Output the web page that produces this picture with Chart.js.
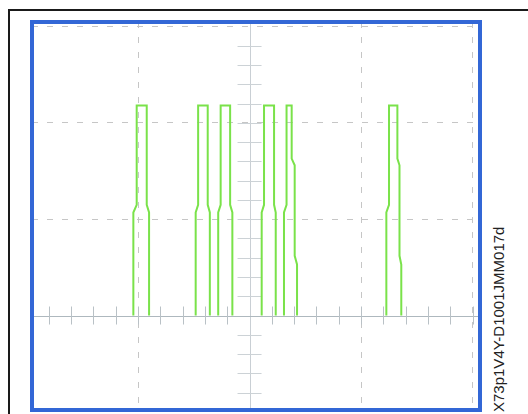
<!DOCTYPE html>
<html>
<head>
<meta charset="utf-8">
<script src="https://cdn.jsdelivr.net/npm/chart.js@4/dist/chart.umd.min.js"></script>
<style>
  html, body { margin: 0; padding: 0; background: #fff; width: 528px; height: 414px; overflow: hidden; }
  #frame { position: absolute; left: 8px; top: 9px; width: 700px; height: 700px;
           border-top: 2px solid #1a1a1a; border-left: 2px solid #1a1a1a; }
  #scope { position: absolute; left: 22px; top: 12px; }
  #code { position: absolute; left: 491px; top: 412px; transform: rotate(-90deg); transform-origin: left top;
          font-family: "Liberation Sans", Arial, sans-serif; font-size: 15px; line-height: 15px;
          color: #222; white-space: nowrap; }
</style>
</head>
<body>
<div id="frame"></div>
<canvas id="scope" width="468" height="408"></canvas>
<div id="code">X73p1V4Y-D1001JMM017d</div>
<script>
// scope screen in divisions (x: time/div, y: volts/div), 0,0 = centre cross
const xMin = -1.951, xMax = 2.067;
const yMin = -0.981, yMax = 3.048;
const minorStep = 0.2;
const xMinorFrom = -1.8, xMinorTo = 2.0;
const yMinorFrom = -0.8, yMinorTo = 2.8;

// trace vertices for each pulse (x in div, y in div)
const pulseX = [
    [-1.042, -1.042, -1.012, -1.012, -0.922, -0.922, -0.901, -0.901],
    [-0.483, -0.483, -0.461, -0.461, -0.375, -0.375, -0.356, -0.356],
    [-0.281, -0.281, -0.259, -0.259, -0.174, -0.174, -0.154, -0.154],
    [0.109, 0.109, 0.130, 0.130, 0.220, 0.220, 0.235, 0.235],
    [0.309, 0.309, 0.332, 0.332, 0.378, 0.378, 0.405, 0.405, 0.426, 0.426],
    [1.227, 1.227, 1.251, 1.251, 1.326, 1.326, 1.345, 1.345, 1.361, 1.361]
];
const pulseY = [
    [0, 1.07, 1.15, 2.18, 2.18, 1.15, 1.07, 0],
    [0, 1.07, 1.15, 2.18, 2.18, 1.15, 1.07, 0],
    [0, 1.07, 1.15, 2.18, 2.18, 1.15, 1.07, 0],
    [0, 1.07, 1.15, 2.18, 2.18, 1.15, 1.07, 0],
    [0, 1.07, 1.15, 2.18, 2.18, 1.63, 1.56, 0.62, 0.53, 0],
    [0, 1.07, 1.15, 2.18, 2.18, 1.63, 1.56, 0.62, 0.53, 0]
];

const traceColor = 'rgb(122, 226, 74)';
const gridColor = '#c6c6c6';

// centre cross with minor ticks, and the blue screen border
const scopePlugin = {
    id: 'scope',
    beforeDatasetsDraw(chart) {
        const ctx = chart.ctx;
        const area = chart.chartArea;
        const xs = chart.scales.x, ys = chart.scales.y;
        const x0 = xs.getPixelForValue(0);
        const y0 = ys.getPixelForValue(0);
        ctx.save();
        ctx.lineWidth = 1;
        // vertical centre line
        ctx.strokeStyle = '#c9cfd4';
        ctx.beginPath();
        ctx.moveTo(Math.round(x0) + 0.5, area.top);
        ctx.lineTo(Math.round(x0) + 0.5, area.bottom);
        ctx.stroke();
        // horizontal centre line
        ctx.strokeStyle = '#aeb8be';
        ctx.beginPath();
        ctx.moveTo(area.left, Math.round(y0) + 0.5);
        ctx.lineTo(area.right, Math.round(y0) + 0.5);
        ctx.stroke();
        // minor ticks on x axis
        ctx.strokeStyle = '#b9c1c6';
        for (let v = xMinorFrom; v <= xMinorTo + 1e-6; v += minorStep) {
            if (Math.abs(v) < 1e-6) continue;
            const px = Math.round(xs.getPixelForValue(v)) + 0.5;
            ctx.beginPath();
            ctx.moveTo(px, y0 - 9);
            ctx.lineTo(px, y0 + 9);
            ctx.stroke();
        }
        // minor ticks on y axis
        ctx.strokeStyle = '#ccd2d6';
        for (let v = yMinorFrom; v <= yMinorTo + 1e-6; v += minorStep) {
            if (Math.abs(v) < 1e-6) continue;
            const py = Math.round(ys.getPixelForValue(v)) + 0.5;
            ctx.beginPath();
            ctx.moveTo(x0 - 12, py);
            ctx.lineTo(x0 + 12, py);
            ctx.stroke();
        }
        ctx.restore();
    },
    afterDatasetsDraw(chart) {
        const ctx = chart.ctx;
        const area = chart.chartArea;
        ctx.save();
        ctx.strokeStyle = '#3367d6';
        ctx.lineWidth = 4;
        ctx.strokeRect(area.left, area.top, area.right - area.left, area.bottom - area.top);
        ctx.restore();
    }
};

const datasets = pulseX.map((xs, i) => ({
    data: xs.map((x, j) => ({ x: x, y: pulseY[i][j] })),
    showLine: true,
    borderColor: traceColor,
    borderWidth: 2,
    pointRadius: 0,
    tension: 0,
    fill: false
}));

const gridOpts = {
    color: (c) => (c.tick && Math.abs(c.tick.value) < 1e-6) ? 'rgba(0,0,0,0)' : gridColor,
    lineWidth: 1,
    drawTicks: false
};

new Chart(document.getElementById('scope'), {
    type: 'scatter',
    data: { datasets },
    options: {
        responsive: false,
        animation: false,
        devicePixelRatio: 1,
        layout: { padding: 10 },
        plugins: { legend: { display: false }, tooltip: { enabled: false } },
        scales: {
            x: {
                type: 'linear', min: xMin, max: xMax,
                ticks: { display: false, stepSize: 1, includeBounds: false },
                grid: gridOpts,
                border: { display: false, dash: [6, 9] }
            },
            y: {
                type: 'linear', min: yMin, max: yMax,
                ticks: { display: false, stepSize: 1, includeBounds: false },
                grid: gridOpts,
                border: { display: false, dash: [6, 9] }
            }
        }
    },
    plugins: [scopePlugin]
});
</script>
</body>
</html>
